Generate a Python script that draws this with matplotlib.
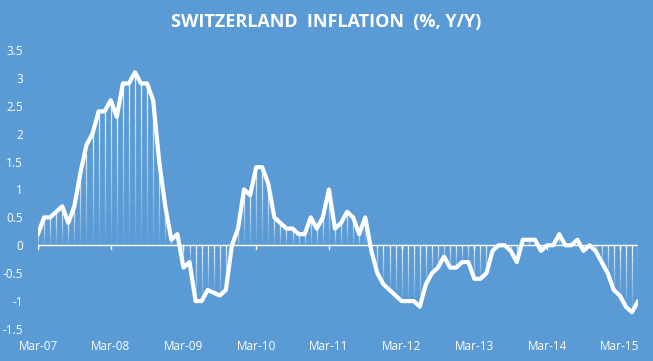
import matplotlib
matplotlib.use("Agg")
import matplotlib.pyplot as plt
import numpy as np
from matplotlib.collections import LineCollection

# ---- data ----
start_label = "Mar-07"
values = [
    0.2, 0.5, 0.5, 0.6, 0.7, 0.4, 0.7, 1.3, 1.8, 2.0, 2.4, 2.4,        # Mar-07 .. Feb-08
    2.6, 2.3, 2.9, 2.9, 3.1, 2.9, 2.9, 2.6, 1.5, 0.7, 0.1, 0.2,        # Mar-08 .. Feb-09
    -0.4, -0.3, -1.0, -1.0, -0.8, -0.85, -0.9, -0.8, 0.0, 0.3, 1.0, 0.9,  # Mar-09 .. Feb-10
    1.4, 1.4, 1.1, 0.5, 0.4, 0.3, 0.3, 0.2, 0.2, 0.5, 0.3, 0.5,        # Mar-10 .. Feb-11
    1.0, 0.3, 0.4, 0.6, 0.5, 0.2, 0.5, -0.1, -0.5, -0.7, -0.8, -0.9,   # Mar-11 .. Feb-12
    -1.0, -1.0, -1.0, -1.1, -0.7, -0.5, -0.4, -0.2, -0.4, -0.4, -0.3, -0.3,  # Mar-12 .. Feb-13
    -0.6, -0.6, -0.5, -0.1, 0.0, 0.0, -0.1, -0.3, 0.1, 0.1, 0.1, -0.1,  # Mar-13 .. Feb-14
    0.0, 0.0, 0.2, 0.0, 0.0, 0.1, -0.1, 0.0, -0.1, -0.3, -0.5, -0.8,   # Mar-14 .. Feb-15
    -0.9, -1.1, -1.2, -1.0,                                            # Mar-15 .. Jun-15
]
tick_labels = ["Mar-07", "Mar-08", "Mar-09", "Mar-10", "Mar-11",
               "Mar-12", "Mar-13", "Mar-14", "Mar-15"]
y_ticks = [-1.5, -1, -0.5, 0, 0.5, 1, 1.5, 2, 2.5, 3, 3.5]
title = "SWITZERLAND  INFLATION  (%, Y/Y)"

# ---- style ----
BG = "#5B9BD5"
W = "white"
FONT = "Open Sans"

fig = plt.figure(figsize=(6.53, 3.61), dpi=100, facecolor=BG)
ax = fig.add_axes([38 / 653, 32 / 361, 600 / 653, 279 / 361])
ax.set_facecolor(BG)

x = np.arange(len(values))
y = np.array(values, dtype=float)

# gradient drop lines (bright at top, fading downward)
segs, cols = [], []
n = 12
for xi, yi in zip(x, y):
    top, bot = max(yi, 0.0), min(yi, 0.0)
    edges = np.linspace(top, bot, n + 1)
    for k in range(n):
        segs.append([(xi, edges[k]), (xi, edges[k + 1])])
        a = 0.9 - 0.85 * (k / (n - 1))
        cols.append((1, 1, 1, a))
ax.add_collection(LineCollection(segs, colors=cols, linewidths=0.9, zorder=2))

# zero axis line with tick marks
ax.plot([0, len(values) - 1], [0, 0], color=W, lw=1.0, zorder=3)
tick_pos = np.arange(0, len(values), 12)
for tp in tick_pos:
    ax.plot([tp, tp], [0, -0.06], color=W, lw=1.0, zorder=3)

# main line
ax.plot(x, y, color=W, lw=3.0, solid_joinstyle="round", solid_capstyle="round", zorder=4)

ax.set_xlim(0, len(values) - 1)
ax.set_ylim(-1.5, 3.5)
ax.set_yticks(y_ticks)
ax.set_yticklabels([f"{v:g}" for v in y_ticks], fontsize=8.5, color=W, family=FONT)
ax.set_xticks(tick_pos)
ax.set_xticklabels(tick_labels, fontsize=8.5, color=W, family=FONT)
ax.tick_params(axis="y", length=0, pad=11)
ax.tick_params(axis="x", length=0, pad=8)
for s in ax.spines.values():
    s.set_visible(False)

fig.text(0.5, 1 - 22 / 361, title, ha="center", va="center", color=W,
         fontsize=13, fontweight="bold", family=FONT)

fig.savefig("out.png", dpi=100, facecolor=BG)
